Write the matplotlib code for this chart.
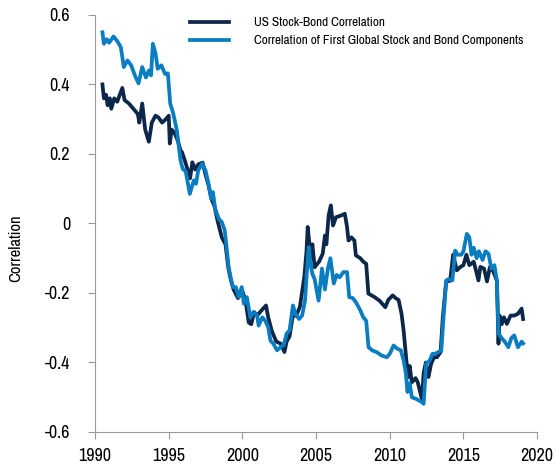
import matplotlib.pyplot as plt

# US stock-bond correlation (dark line)
us_years = [1990.5, 1990.6, 1990.75, 1990.85, 1991.0, 1991.1, 1991.3, 1991.5, 1991.85, 1992.0,
            1992.3, 1992.6, 1992.9, 1993.0, 1993.2, 1993.4, 1993.65, 1993.85, 1994.1, 1994.3,
            1994.55, 1994.8, 1995.0, 1995.07, 1995.2, 1995.4, 1995.6, 1995.8, 1995.9, 1996.1,
            1996.45, 1996.6, 1996.8, 1997.0, 1997.3, 1997.5, 1997.7, 1997.9, 1998.1, 1998.3,
            1998.45, 1998.6, 1998.85, 1999.05, 1999.2, 1999.4, 1999.7, 2000.0, 2000.2, 2000.43,
            2000.6, 2000.8, 2001.0, 2001.3, 2001.6, 2001.75, 2002.0, 2002.3, 2002.6, 2002.85,
            2003.0, 2003.2, 2003.4, 2003.7, 2003.9, 2004.2, 2004.35, 2004.43, 2004.55, 2004.65,
            2004.75, 2004.9, 2005.2, 2005.45, 2005.6, 2005.7, 2005.85, 2006.0, 2006.15, 2006.35,
            2006.7, 2006.95, 2007.1, 2007.2, 2007.4, 2007.6, 2007.7, 2008.0, 2008.2, 2008.4,
            2008.55, 2008.9, 2009.3, 2009.7, 2009.9, 2010.2, 2010.4, 2010.6, 2010.8, 2010.94,
            2011.05, 2011.15, 2011.25, 2011.35, 2011.5, 2011.75, 2011.9, 2012.18, 2012.3, 2012.45,
            2012.63, 2012.8, 2013.0, 2013.2, 2013.45, 2013.6, 2013.83, 2014.1, 2014.3, 2014.55,
            2014.8, 2015.0, 2015.2, 2015.4, 2015.7, 2016.02, 2016.15, 2016.4, 2016.6, 2016.8,
            2017.05, 2017.27, 2017.38, 2017.45, 2017.6, 2017.75, 2017.95, 2018.2, 2018.45, 2018.7,
            2018.95, 2019.05]
us_corr = [0.40, 0.36, 0.37, 0.34, 0.36, 0.33, 0.36, 0.35, 0.39, 0.355,
           0.345, 0.33, 0.315, 0.29, 0.345, 0.27, 0.235, 0.29, 0.31, 0.305,
           0.29, 0.30, 0.31, 0.23, 0.27, 0.26, 0.24, 0.21, 0.205, 0.18,
           0.13, 0.176, 0.155, 0.17, 0.175, 0.14, 0.11, 0.07, 0.05, 0.01,
           -0.015, -0.04, -0.06, -0.13, -0.16, -0.19, -0.215, -0.195, -0.22, -0.285,
           -0.29, -0.255, -0.265, -0.25, -0.236, -0.27, -0.31, -0.34, -0.346, -0.37,
           -0.34, -0.325, -0.27, -0.26, -0.24, -0.154, -0.08, -0.01, -0.06, -0.097,
           -0.06, -0.126, -0.11, -0.087, -0.035, -0.06, 0.023, 0.052, -0.006, 0.018,
           0.023, 0.028, -0.01, -0.049, -0.04, -0.049, -0.092, -0.10, -0.11, -0.116,
           -0.202, -0.21, -0.222, -0.241, -0.22, -0.207, -0.215, -0.22, -0.26, -0.308,
           -0.36, -0.404, -0.442, -0.41, -0.457, -0.445, -0.457, -0.505, -0.43, -0.40,
           -0.442, -0.405, -0.385, -0.385, -0.37, -0.27, -0.167, -0.165, -0.09, -0.135,
           -0.125, -0.12, -0.09, -0.12, -0.11, -0.164, -0.125, -0.13, -0.167, -0.125,
           -0.14, -0.165, -0.346, -0.265, -0.29, -0.27, -0.289, -0.265, -0.265, -0.26,
           -0.245, -0.275]

# correlation of first global stock and bond components (light line)
gl_years = [1990.5, 1990.6, 1990.8, 1990.95, 1991.25, 1991.5, 1991.75, 1991.95, 1992.2, 1992.45,
            1992.7, 1992.95, 1993.2, 1993.45, 1993.65, 1993.8, 1993.92, 1994.1, 1994.25, 1994.5,
            1994.75, 1994.94, 1995.1, 1995.3, 1995.55, 1995.8, 1995.95, 1996.15, 1996.43, 1996.7,
            1996.85, 1997.0, 1997.27, 1997.5, 1997.7, 1997.88, 1998.0, 1998.15, 1998.4, 1998.6,
            1998.8, 1999.07, 1999.2, 1999.35, 1999.55, 1999.75, 1999.95, 2000.1, 2000.3, 2000.54,
            2000.75, 2001.0, 2001.1, 2001.35, 2001.55, 2001.75, 2001.9, 2002.1, 2002.35, 2002.6,
            2002.8, 2003.0, 2003.2, 2003.43, 2003.6, 2003.85, 2004.05, 2004.25, 2004.35, 2004.5,
            2004.6, 2004.75, 2004.9, 2005.17, 2005.4, 2005.6, 2005.8, 2005.97, 2006.2, 2006.4,
            2006.6, 2006.85, 2007.1, 2007.25, 2007.5, 2007.75, 2008.0, 2008.2, 2008.4, 2008.56,
            2008.8, 2009.1, 2009.45, 2009.8, 2010.0, 2010.26, 2010.5, 2010.75, 2010.94, 2011.1,
            2011.2, 2011.35, 2011.5, 2011.8, 2012.18, 2012.3, 2012.47, 2012.7, 2012.9, 2013.08,
            2013.3, 2013.5, 2013.65, 2013.83, 2014.0, 2014.25, 2014.44, 2014.6, 2014.85, 2015.0,
            2015.23, 2015.4, 2015.55, 2015.7, 2015.9, 2016.05, 2016.3, 2016.5, 2016.7, 2016.9,
            2017.1, 2017.27, 2017.38, 2017.6, 2017.8, 2018.05, 2018.25, 2018.45, 2018.7, 2018.96,
            2019.05]
gl_corr = [0.55, 0.517, 0.53, 0.52, 0.538, 0.525, 0.507, 0.45, 0.469, 0.455,
           0.426, 0.403, 0.45, 0.42, 0.44, 0.426, 0.517, 0.49, 0.445, 0.455,
           0.43, 0.432, 0.345, 0.317, 0.268, 0.181, 0.157, 0.15, 0.085, 0.124,
           0.114, 0.153, 0.172, 0.152, 0.114, 0.071, 0.09, 0.042, 0.013, 0.004,
           -0.02, -0.126, -0.155, -0.183, -0.183, -0.212, -0.183, -0.231, -0.212, -0.27,
           -0.255, -0.265, -0.294, -0.27, -0.28, -0.298, -0.337, -0.346, -0.365, -0.355,
           -0.35, -0.317, -0.308, -0.236, -0.26, -0.275, -0.265, -0.222, -0.155, -0.068,
           -0.11, -0.145, -0.16, -0.222, -0.13, -0.19, -0.13, -0.10, -0.173, -0.148,
           -0.155, -0.14, -0.14, -0.212, -0.215, -0.23, -0.25, -0.27, -0.28, -0.356,
           -0.365, -0.37, -0.38, -0.385, -0.375, -0.351, -0.36, -0.365, -0.394, -0.433,
           -0.485, -0.46, -0.50, -0.505, -0.514, -0.519, -0.404, -0.395, -0.375, -0.375,
           -0.37, -0.365, -0.27, -0.164, -0.16, -0.164, -0.078, -0.09, -0.09, -0.08,
           -0.03, -0.04, -0.09, -0.07, -0.10, -0.08, -0.105, -0.08, -0.087, -0.13,
           -0.12, -0.164, -0.317, -0.33, -0.34, -0.356, -0.33, -0.322, -0.356, -0.34,
           -0.345]

x_ticks = [1990, 1995, 2000, 2005, 2010, 2015, 2020]
y_ticks = [-0.6, -0.4, -0.2, 0, 0.2, 0.4, 0.6]
y_labels = ["-0.6", "-0.4", "-0.2", "0", "0.2", "0.4", "0.6"]

plt.rcParams['font.family'] = ['Archivo Narrow', 'DejaVu Sans']

fig = plt.figure(figsize=(5.56, 4.66), dpi=100)
ax = fig.add_axes([0.171, 0.073, 0.795, 0.895])

ax.plot(us_years, us_corr, color="#0c2749", lw=2.7, label="US Stock-Bond Correlation")
ax.plot(gl_years, gl_corr, color="#0a7cc1", lw=2.7,
        label="Correlation of First Global Stock and Bond Components")

ax.set_xlim(1990, 2020)
ax.set_ylim(-0.6, 0.6)
ax.set_xticks(x_ticks)
ax.set_yticks(y_ticks)
ax.set_yticklabels(y_labels)

for s in ["top", "right"]:
    ax.spines[s].set_visible(False)
for s in ["left", "bottom"]:
    ax.spines[s].set_color("#9a9a9a")
ax.tick_params(colors="#9a9a9a", labelcolor="black", labelsize=13, length=5, direction="out")
ax.tick_params(axis="y", pad=13)
ax.tick_params(axis="x", pad=6.5)

ax.set_ylabel("Correlation", fontsize=12)
ax.yaxis.set_label_coords(-0.163, 0.44)

ax.legend(loc="upper left", bbox_to_anchor=(0.215, 0.995), frameon=False,
          prop={"size": 9.6, "weight": "medium"},
          borderpad=0, borderaxespad=0, handlelength=2.9, handletextpad=1.9, labelspacing=0.5)

fig.savefig("out.png", dpi=100)
